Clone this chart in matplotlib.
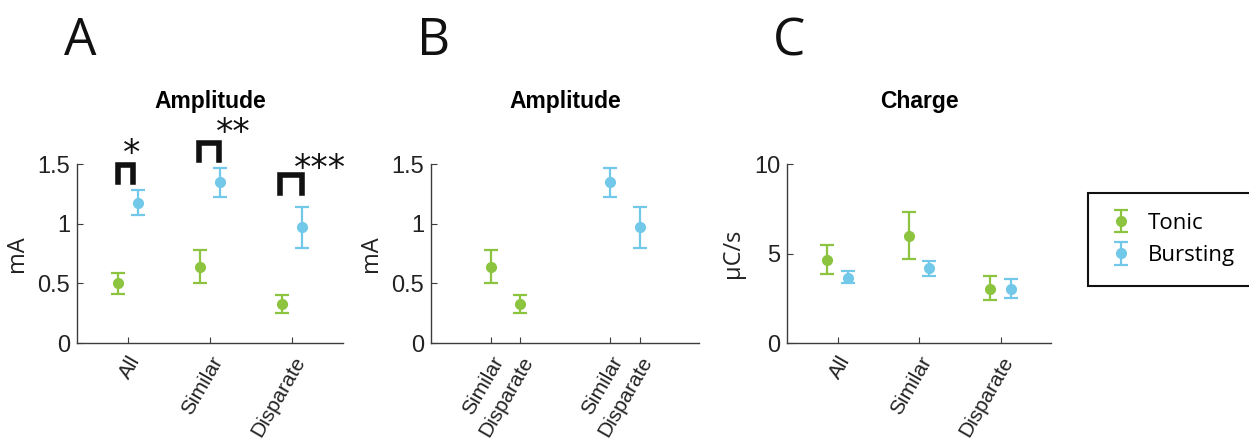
#!/usr/bin/env python
# Tonic vs bursting stimulation: amplitude and charge summaries (panels A-C)

import matplotlib
matplotlib.use('Agg')
import matplotlib.pyplot as plt
import numpy as np

# data
groups = ['All', 'Similar', 'Disparate']

tonic_amp = [0.50, 0.64, 0.33]
tonic_amp_lo = [0.41, 0.50, 0.25]
tonic_amp_hi = [0.59, 0.78, 0.40]
burst_amp = [1.17, 1.35, 0.97]
burst_amp_lo = [1.07, 1.22, 0.80]
burst_amp_hi = [1.28, 1.47, 1.14]

tonic_chg = [4.65, 6.0, 3.03]
tonic_chg_lo = [3.85, 4.70, 2.38]
tonic_chg_hi = [5.48, 7.34, 3.72]
burst_chg = [3.66, 4.18, 3.03]
burst_chg_lo = [3.35, 3.77, 2.51]
burst_chg_hi = [4.00, 4.61, 3.57]

# panel B uses the similar / disparate amplitude values only
b_labels = ['Similar', 'Disparate', 'Similar', 'Disparate']
b_pos_tonic = [1, 2]
b_pos_burst = [5, 6]

sig_labels = ['*', '**', '***']

# styling
green = '#8cc43f'
blue = '#72c8e8'
axcol = '#3c3c3c'
plt.rcParams['font.family'] = ['Liberation Sans', 'DejaVu Sans']

fig = plt.figure(figsize=(12.49, 4.43), dpi=100)
axA = fig.add_axes([0.0617, 0.2257, 0.2130, 0.404])
axB = fig.add_axes([0.3451, 0.2257, 0.2146, 0.404])
axC = fig.add_axes([0.6301, 0.2257, 0.2114, 0.404])

eb = dict(fmt='o', markersize=7, capsize=5, elinewidth=1.6, capthick=1.6)


def err(v, lo, hi):
    v = np.array(v); lo = np.array(lo); hi = np.array(hi)
    return np.vstack([v - lo, hi - v])


def style(ax, ylabel):
    for s in ['top', 'right']:
        ax.spines[s].set_visible(False)
    for s in ['left', 'bottom']:
        ax.spines[s].set_color(axcol)
        ax.spines[s].set_linewidth(1.0)
    ax.tick_params(direction='in', length=4, width=0.8, color=axcol,
                   labelsize=17, labelcolor='#222222', pad=5)
    ax.tick_params(axis='x', labelsize=15, pad=7)
    ax.set_ylabel(ylabel, family=['Open Sans', 'DejaVu Sans'], fontsize=17,
                  color='#222222', labelpad=6)
    for lab in ax.get_xticklabels():
        lab.set_rotation(60)
        lab.set_ha('right')
        lab.set_rotation_mode('anchor')


x = np.arange(1, 4)
off = 0.125

# panel A
axA.errorbar(x - off, tonic_amp, yerr=err(tonic_amp, tonic_amp_lo, tonic_amp_hi),
             color=green, **eb)
axA.errorbar(x + off, burst_amp, yerr=err(burst_amp, burst_amp_lo, burst_amp_hi),
             color=blue, **eb)
axA.set_xlim(0.38, 3.62)
axA.set_ylim(0, 1.5)
axA.set_yticks([0, 0.5, 1, 1.5])
axA.set_yticklabels(['0', '0.5', '1', '1.5'])
axA.set_xticks(x)
axA.set_xticklabels(groups)
axA.set_title('Amplitude', fontsize=16.5, fontweight='bold', pad=40)
style(axA, 'mA')

# significance brackets
br_x0 = [0.88, 1.87, 2.85]
br_x1 = [1.06, 2.11, 3.12]
br_top = [1.49, 1.68, 1.41]
br_bot = [1.35, 1.53, 1.26]
star_x = [1.05, 2.28, 3.34]
star_y = [1.58, 1.76, 1.46]
for i in range(3):
    axA.plot([br_x0[i], br_x0[i], br_x1[i], br_x1[i]],
             [br_bot[i], br_top[i], br_top[i], br_bot[i]],
             color='#111111', lw=4, solid_joinstyle='miter', clip_on=False)
    axA.text(star_x[i], star_y[i], sig_labels[i], fontsize=25, ha='center',
             va='center', color='#111111', family=['DejaVu Sans'])

# panel B
b_tonic = tonic_amp[1:]
b_burst = burst_amp[1:]
axB.errorbar(b_pos_tonic, b_tonic,
             yerr=err(b_tonic, tonic_amp_lo[1:], tonic_amp_hi[1:]),
             color=green, **eb)
axB.errorbar(b_pos_burst, b_burst,
             yerr=err(b_burst, burst_amp_lo[1:], burst_amp_hi[1:]),
             color=blue, **eb)
axB.set_xlim(-1, 8)
axB.set_ylim(0, 1.5)
axB.set_yticks([0, 0.5, 1, 1.5])
axB.set_yticklabels(['0', '0.5', '1', '1.5'])
axB.set_xticks(b_pos_tonic + b_pos_burst)
axB.set_xticklabels(b_labels)
axB.set_title('Amplitude', fontsize=16.5, fontweight='bold', pad=40)
style(axB, 'mA')

# panel C
hT = axC.errorbar(x - off, tonic_chg, yerr=err(tonic_chg, tonic_chg_lo, tonic_chg_hi),
                  color=green, **eb)
hB = axC.errorbar(x + off, burst_chg, yerr=err(burst_chg, burst_chg_lo, burst_chg_hi),
                  color=blue, **eb)
axC.set_xlim(0.38, 3.62)
axC.set_ylim(0, 10)
axC.set_yticks([0, 5, 10])
axC.set_xticks(x)
axC.set_xticklabels(groups)
axC.set_title('Charge', fontsize=16.5, fontweight='bold', pad=40)
style(axC, 'μC/s')

leg = fig.legend([hT, hB], ['Tonic', 'Bursting'], loc='upper left',
                 bbox_to_anchor=(0.871, 0.564), borderaxespad=0, fancybox=False,
                 edgecolor='#111111', framealpha=1,
                 prop={'family': ['Open Sans', 'DejaVu Sans'], 'size': 16},
                 handlelength=1.2, borderpad=0.9, labelspacing=0.5,
                 handletextpad=0.6)
leg.get_frame().set_linewidth(1.5)

# panel letters
for lab, xp in zip(['A', 'B', 'C'], [0.064, 0.347, 0.632]):
    fig.text(xp, 0.875, lab, fontsize=37, family=['Open Sans', 'DejaVu Sans'],
             ha='center', va='baseline', color='#111111')

fig.savefig('out.png', dpi=100)
